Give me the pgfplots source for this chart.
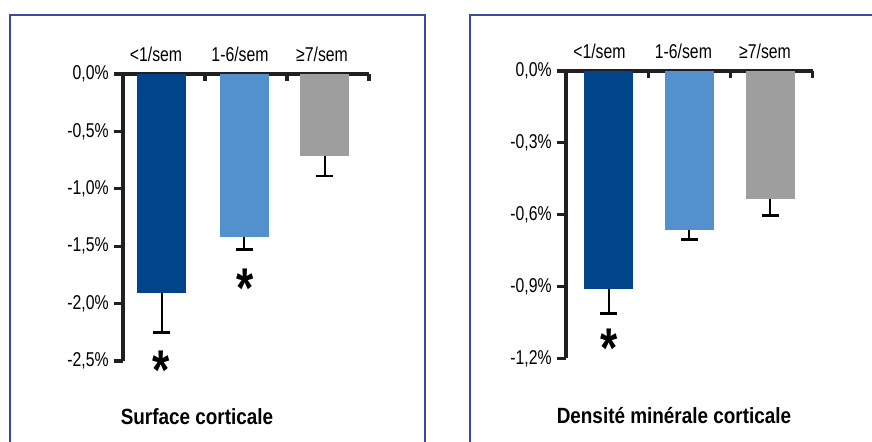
\documentclass[border=0pt]{standalone}
\usepackage{fontspec}
\setmainfont{Liberation Sans}[FakeStretch=0.79]
\newfontfamily\titlefont{Liberation Sans}[FakeStretch=0.86]
\usepackage{pgfplots}
\pgfplotsset{compat=1.18}
\definecolor{frameblue}{HTML}{3A4A9E}
\definecolor{barA}{HTML}{02448A}
\definecolor{barB}{HTML}{5291CE}
\definecolor{barC}{HTML}{9E9E9E}
\definecolor{axisgray}{HTML}{231F20}
\pgfplotsset{
  panel/.style={
    scale only axis,
    axis x line*=top, axis y line*=left,
    axis line style={line width=1.6pt, color=axisgray, -},
    ytick style={line width=1.6pt, color=axisgray},
    tick align=outside, major tick length=4.5pt,
    xtick=\empty,
    xmin=0, xmax=3,
    clip=false,
    yticklabel style={font=\fontsize{10}{11}\selectfont, inner sep=1pt, xshift=-1.5pt},
  },
  mybar/.style={
    ybar, bar shift=0pt, bar width=24.5pt, draw=none, fill=#1,
    error bars/y dir=minus, error bars/y explicit,
    error bars/error bar style={line width=1pt, black},
    error bars/error mark options={rotate=90, mark size=4.2pt, line width=1.3pt, black},
  },
}
\newcommand{\sigast}{{\fontsize{28}{28}\selectfont\bfseries *}}
\begin{document}
\begin{tikzpicture}
\path[use as bounding box] (0,0) rectangle (436pt,220.5pt);
\draw[frameblue, line width=1pt] (5pt,-5pt) |- (212.5pt,213pt) -- (212.5pt,-5pt);
\draw[frameblue, line width=1pt] (235pt,-5pt) |- (445pt,213pt);

% Left panel
\begin{axis}[panel, at={(61.5pt,40pt)}, anchor=south west,
  width=123pt, height=143.5pt,
  ymin=-2.5, ymax=0,
  ytick={-2.5,-2,-1.5,-1,-0.5,0},
  yticklabels={{-2,5\%},{-2,0\%},{-1,5\%},{-1,0\%},{-0,5\%},{0,0\%}},
]
\addplot[mybar=barA] coordinates {(0.47,-1.91) -= (0,0.34)};
\addplot[mybar=barB] coordinates {(1.48,-1.42) -= (0,0.11)};
\addplot[mybar=barC] coordinates {(2.46,-0.71) -= (0,0.18)};
\draw[axisgray, line width=1.6pt] (axis cs:1,0) -- ([yshift=-3.5pt]axis cs:1,0);
\draw[axisgray, line width=1.6pt] (axis cs:2,0) -- ([yshift=-3.5pt]axis cs:2,0);
\draw[axisgray, line width=1.6pt] (axis cs:3,0) -- ([yshift=-3.5pt]axis cs:3,0);
\node[anchor=north, inner sep=0pt] at (axis cs:0.46,-2.41) {\sigast};
\node[anchor=north, inner sep=0pt] at (axis cs:1.49,-1.697) {\sigast};
\end{axis}

% Right panel
\begin{axis}[panel, at={(283pt,41.35pt)}, anchor=south west,
  width=123.35pt, height=143.65pt,
  ymin=-1.2, ymax=0,
  ytick={-1.2,-0.9,-0.6,-0.3,0},
  yticklabels={{-1,2\%},{-0,9\%},{-0,6\%},{-0,3\%},{0,0\%}},
]
\addplot[mybar=barA] coordinates {(0.517,-0.912) -= (0,0.10)};
\addplot[mybar=barB] coordinates {(1.50,-0.665) -= (0,0.038)};
\addplot[mybar=barC] coordinates {(2.485,-0.533) -= (0,0.071)};
\draw[axisgray, line width=1.6pt] (axis cs:1,0) -- ([yshift=-3.5pt]axis cs:1,0);
\draw[axisgray, line width=1.6pt] (axis cs:2,0) -- ([yshift=-3.5pt]axis cs:2,0);
\draw[axisgray, line width=1.6pt] (axis cs:3,0) -- ([yshift=-3.5pt]axis cs:3,0);
\node[anchor=north, inner sep=0pt] at (axis cs:0.52,-1.075) {\sigast};
\end{axis}

% category labels
\begin{scope}[every node/.style={anchor=base, inner sep=0pt, font=\fontsize{10}{11}\selectfont}]
\node at (78pt,190pt) {<1/sem};
\node at (120pt,190pt) {1-6/sem};
\node at (161pt,190pt) {≥7/sem};
\node at (299.7pt,191.35pt) {<1/sem};
\node at (341.7pt,191.35pt) {1-6/sem};
\node at (382.5pt,191.35pt) {≥7/sem};
\end{scope}
% titles
\node[font=\titlefont\bfseries\fontsize{11}{12}\selectfont] at (98.5pt,12pt) {Surface corticale};
\node[font=\titlefont\bfseries\fontsize{11}{12}\selectfont] at (337pt,12.5pt) {Densité minérale corticale};
\end{tikzpicture}
\end{document}
